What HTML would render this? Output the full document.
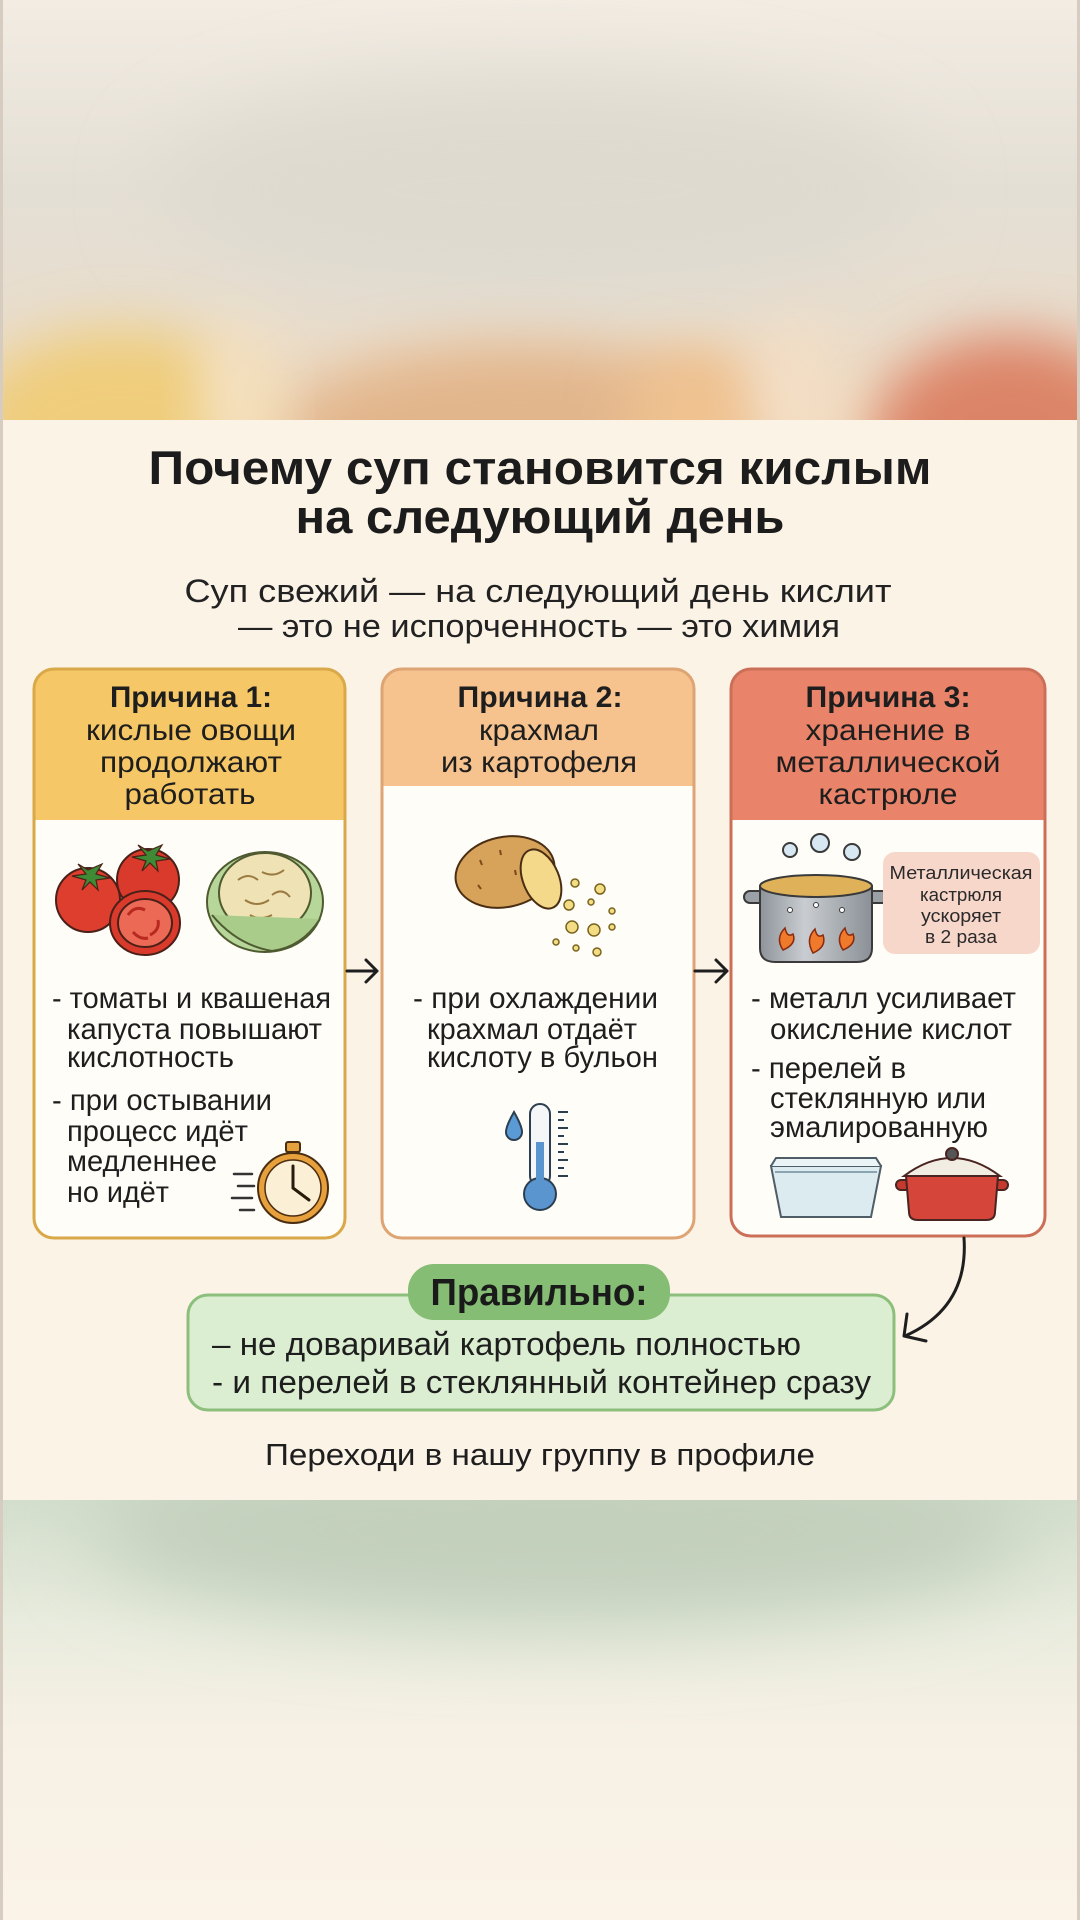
<!DOCTYPE html>
<html><head><meta charset="utf-8">
<style>html,body{margin:0;padding:0;width:1080px;height:1920px;overflow:hidden;background:#fcf3e7}svg{display:block}</style>
</head><body>
<svg width="1080" height="1920" viewBox="0 0 1080 1920" xmlns="http://www.w3.org/2000/svg" font-family="'Liberation Sans', sans-serif">
<defs>
  <filter id="b40" x="-60%" y="-60%" width="220%" height="220%"><feGaussianBlur stdDeviation="40"/></filter>
  <filter id="b28" x="-60%" y="-60%" width="220%" height="220%"><feGaussianBlur stdDeviation="28"/></filter>
  <clipPath id="topc"><rect x="0" y="0" width="1080" height="420"/></clipPath>
  <clipPath id="botc"><rect x="0" y="1500" width="1080" height="420"/></clipPath>
  <linearGradient id="topg" x1="0" y1="0" x2="0" y2="1">
    <stop offset="0" stop-color="#f2ece3"/>
    <stop offset="0.45" stop-color="#e4dfd5"/>
    <stop offset="0.75" stop-color="#e8ddcd"/>
    <stop offset="1" stop-color="#eed8bd"/>
  </linearGradient>
  <linearGradient id="botg" x1="0" y1="0" x2="0" y2="1">
    <stop offset="0" stop-color="#d3decd"/>
    <stop offset="0.3" stop-color="#e9ecde"/>
    <stop offset="0.55" stop-color="#f7f1e5"/>
    <stop offset="1" stop-color="#fbf3e8"/>
  </linearGradient>
  <clipPath id="c1"><rect x="34" y="669" width="311" height="569" rx="20"/></clipPath>
  <clipPath id="c2"><rect x="382" y="669" width="312" height="569" rx="20"/></clipPath>
  <clipPath id="c3"><rect x="731" y="669" width="314" height="567" rx="20"/></clipPath>
  <linearGradient id="potg" x1="0" y1="0" x2="1" y2="0">
    <stop offset="0" stop-color="#8e949a"/>
    <stop offset="0.4" stop-color="#c9cdd1"/>
    <stop offset="1" stop-color="#8a9096"/>
  </linearGradient>
</defs>

<!-- top blurred band -->
<g clip-path="url(#topc)">
  <rect x="0" y="0" width="1080" height="420" fill="url(#topg)"/>
  <ellipse cx="540" cy="190" rx="380" ry="110" fill="#dedad0" filter="url(#b40)"/>
  <ellipse cx="120" cy="425" rx="150" ry="95" fill="#efcd7c" filter="url(#b28)"/>
  <ellipse cx="520" cy="435" rx="240" ry="90" fill="#e2b68c" filter="url(#b28)"/>
  <ellipse cx="700" cy="425" rx="75" ry="75" fill="#f0c290" filter="url(#b28)"/>
  <ellipse cx="1010" cy="445" rx="140" ry="110" fill="#dc8468" filter="url(#b28)"/>
  <ellipse cx="238" cy="400" rx="35" ry="80" fill="#f5e3c8" filter="url(#b28)"/>
  <ellipse cx="795" cy="400" rx="40" ry="80" fill="#f4dfc6" filter="url(#b28)"/>
</g>

<!-- bottom blurred band -->
<g clip-path="url(#botc)">
  <rect x="0" y="1500" width="1080" height="420" fill="url(#botg)"/>
  <ellipse cx="560" cy="1530" rx="470" ry="95" fill="#c3d0bc" filter="url(#b40)"/>
</g>

<!-- side edges -->
<rect x="0" y="0" width="3" height="1920" fill="#d6cdc0"/>
<rect x="1077" y="0" width="3" height="1920" fill="#d6cdc0"/>

<!-- Title -->
<g fill="#1c1c1c" font-weight="bold" font-size="47" text-anchor="middle">
  <text x="540" y="484" textLength="783" lengthAdjust="spacingAndGlyphs">Почему суп становится кислым</text>
  <text x="540" y="533" textLength="489" lengthAdjust="spacingAndGlyphs">на следующий день</text>
</g>
<g fill="#222" font-size="32" text-anchor="middle">
  <text x="538" y="602" textLength="707" lengthAdjust="spacingAndGlyphs">Суп свежий — на следующий день кислит</text>
  <text x="539" y="637" textLength="602" lengthAdjust="spacingAndGlyphs">— это не испорченность — это химия</text>
</g>

<!-- Card 1 -->
<g clip-path="url(#c1)">
  <rect x="34" y="669" width="311" height="569" fill="#fffdf8"/>
  <rect x="34" y="669" width="311" height="151" fill="#f5c766"/>
</g>
<rect x="34" y="669" width="311" height="569" rx="20" fill="none" stroke="#d9a848" stroke-width="3"/>

<!-- Card 2 -->
<g clip-path="url(#c2)">
  <rect x="382" y="669" width="312" height="569" fill="#fffdf8"/>
  <rect x="382" y="669" width="312" height="117" fill="#f6c38f"/>
</g>
<rect x="382" y="669" width="312" height="569" rx="20" fill="none" stroke="#dea474" stroke-width="3"/>

<!-- Card 3 -->
<g clip-path="url(#c3)">
  <rect x="731" y="669" width="314" height="567" fill="#fffdf8"/>
  <rect x="731" y="669" width="314" height="151" fill="#e9846a"/>
</g>
<rect x="731" y="669" width="314" height="567" rx="20" fill="none" stroke="#cc6f58" stroke-width="3"/>

<!-- Header texts -->
<g fill="#1e1e1e" font-size="30" text-anchor="middle">
  <text x="191" y="707" font-weight="bold" textLength="162" lengthAdjust="spacingAndGlyphs">Причина 1:</text>
  <text x="191" y="740" textLength="210" lengthAdjust="spacingAndGlyphs">кислые овощи</text>
  <text x="191" y="772" textLength="182" lengthAdjust="spacingAndGlyphs">продолжают</text>
  <text x="190" y="804" textLength="131" lengthAdjust="spacingAndGlyphs">работать</text>

  <text x="540" y="707" font-weight="bold" textLength="165" lengthAdjust="spacingAndGlyphs">Причина 2:</text>
  <text x="539" y="740" textLength="120" lengthAdjust="spacingAndGlyphs">крахмал</text>
  <text x="539" y="772" textLength="196" lengthAdjust="spacingAndGlyphs">из картофеля</text>

  <text x="888" y="707" font-weight="bold" textLength="165" lengthAdjust="spacingAndGlyphs">Причина 3:</text>
  <text x="888" y="740" textLength="165" lengthAdjust="spacingAndGlyphs">хранение в</text>
  <text x="888" y="772" textLength="225" lengthAdjust="spacingAndGlyphs">металлической</text>
  <text x="888" y="804" textLength="139" lengthAdjust="spacingAndGlyphs">кастрюле</text>
</g>

<!-- Body texts -->
<g fill="#1e1e1e" font-size="30">
  <text x="52" y="1008" textLength="279" lengthAdjust="spacingAndGlyphs">- томаты и квашеная</text>
  <text x="67" y="1039" textLength="255" lengthAdjust="spacingAndGlyphs">капуста повышают</text>
  <text x="67" y="1067" textLength="167" lengthAdjust="spacingAndGlyphs">кислотность</text>
  <text x="52" y="1110" textLength="220" lengthAdjust="spacingAndGlyphs">- при остывании</text>
  <text x="67" y="1141" textLength="181" lengthAdjust="spacingAndGlyphs">процесс идёт</text>
  <text x="67" y="1171" textLength="150" lengthAdjust="spacingAndGlyphs">медленнее</text>
  <text x="67" y="1202" textLength="102" lengthAdjust="spacingAndGlyphs">но идёт</text>

  <text x="413" y="1008" textLength="245" lengthAdjust="spacingAndGlyphs">- при охлаждении</text>
  <text x="427" y="1039" textLength="210" lengthAdjust="spacingAndGlyphs">крахмал отдаёт</text>
  <text x="427" y="1067" textLength="231" lengthAdjust="spacingAndGlyphs">кислоту в бульон</text>

  <text x="751" y="1008" textLength="265" lengthAdjust="spacingAndGlyphs">- металл усиливает</text>
  <text x="770" y="1039" textLength="242" lengthAdjust="spacingAndGlyphs">окисление кислот</text>
  <text x="751" y="1078" textLength="155" lengthAdjust="spacingAndGlyphs">- перелей в</text>
  <text x="770" y="1108" textLength="216" lengthAdjust="spacingAndGlyphs">стеклянную или</text>
  <text x="770" y="1137" textLength="218" lengthAdjust="spacingAndGlyphs">эмалированную</text>
</g>

<!-- Tomatoes -->
<g stroke="#4a2018" stroke-width="2">
  <circle cx="148" cy="880" r="31" fill="#d93a2b"/>
  <circle cx="88" cy="900" r="32" fill="#dd3e2e"/>
  <ellipse cx="145" cy="923" rx="35" ry="32" fill="#d93a2b"/>
  <ellipse cx="145" cy="923" rx="27" ry="24" fill="#ec6a55"/>
  <path d="M128 915 Q135 905 145 910 M150 935 Q160 930 158 920 M133 932 Q140 940 148 938" fill="none" stroke="#b82a20" stroke-width="3"/>
  <path d="M88 870 l-10 -6 l8 10 l-14 2 l14 4 l-4 10 l8 -8 l8 8 l-2 -10 l14 -2 l-14 -4 l6 -10 z" fill="#3f8a35" stroke-width="1.2"/>
  <path d="M148 851 l-10 -6 l8 10 l-14 2 l14 4 l-4 10 l8 -8 l8 8 l-2 -10 l14 -2 l-14 -4 l6 -10 z" fill="#3f8a35" stroke-width="1.2"/>
</g>
<!-- Cabbage -->
<g stroke="#4f5a30" stroke-width="2">
  <ellipse cx="265" cy="902" rx="58" ry="50" fill="#b7d699"/>
  <ellipse cx="265" cy="893" rx="46" ry="40" fill="#efe2b4"/>
  <path d="M238 880 q10 -8 20 0 M262 872 q12 6 22 -2 M245 900 q12 8 24 0 M272 895 q10 -8 18 2 M250 915 q10 6 22 0" fill="none" stroke="#9a7a40" stroke-width="2"/>
  <path d="M212 915 q25 30 60 36 q30 -4 48 -32" fill="#a9cc8a"/>
</g>
<!-- Stopwatch -->
<g>
  <rect x="286" y="1142" width="14" height="10" rx="2" fill="#e3a03c" stroke="#4a2e12" stroke-width="2"/>
  <circle cx="293" cy="1188" r="35" fill="#e8a03c" stroke="#4a2e12" stroke-width="2"/>
  <circle cx="293" cy="1188" r="28" fill="#fbefd6" stroke="#4a2e12" stroke-width="1.5"/>
  <path d="M293 1188 V1166 M293 1188 L309 1200" stroke="#2a1a0a" stroke-width="3" stroke-linecap="round"/>
  <path d="M234 1174 h18 M238 1186 h16 M232 1198 h20 M240 1210 h14" stroke="#333" stroke-width="2.5" stroke-linecap="round"/>
</g>

<!-- Potato -->
<g stroke="#4a2e14" stroke-width="2">
  <ellipse cx="505" cy="872" rx="50" ry="35" transform="rotate(-12 505 872)" fill="#d7a35a"/>
  <ellipse cx="541" cy="879" rx="18" ry="31" transform="rotate(-22 541 879)" fill="#f4d98a"/>
  <path d="M480 860 l2 5 M500 850 l1 5 M478 885 l3 4 M515 870 l1 5" stroke="#7a4a1a"/>
</g>
<g fill="#f2dc84" stroke="#7a6420" stroke-width="1.5">
  <circle cx="575" cy="883" r="4"/><circle cx="600" cy="889" r="5"/>
  <circle cx="569" cy="905" r="5"/><circle cx="591" cy="902" r="3"/><circle cx="612" cy="911" r="3"/>
  <circle cx="572" cy="927" r="6"/><circle cx="594" cy="930" r="6"/><circle cx="612" cy="927" r="3"/>
  <circle cx="556" cy="942" r="3"/><circle cx="576" cy="948" r="3"/><circle cx="597" cy="952" r="4"/>
</g>
<!-- Thermometer -->
<g stroke="#2d3e50" stroke-width="2">
  <path d="M514 1112 Q506 1126 506 1132 A8 8 0 0 0 522 1132 Q522 1126 514 1112 Z" fill="#5b9bd5"/>
  <rect x="530" y="1104" width="20" height="82" rx="10" fill="#f4f6f8"/>
  <circle cx="540" cy="1194" r="16" fill="#5b95d0"/>
  <rect x="536" y="1142" width="8" height="50" fill="#5b95d0" stroke="none"/>
  <path d="M558 1112 h10 M558 1120 h6 M558 1128 h10 M558 1136 h6 M558 1144 h10 M558 1152 h6 M558 1160 h10 M558 1168 h6 M558 1176 h10" stroke-width="2"/>
</g>

<!-- Steel pot -->
<g stroke="#3a3a3a" stroke-width="2">
  <circle cx="790" cy="850" r="7" fill="#d7e8f2"/>
  <circle cx="820" cy="843" r="9" fill="#d7e8f2"/>
  <circle cx="852" cy="852" r="8" fill="#d7e8f2"/>
  <rect x="744" y="891" width="22" height="12" rx="6" fill="#9aa0a6"/>
  <rect x="866" y="891" width="22" height="12" rx="6" fill="#9aa0a6"/>
  <path d="M760 886 L760 948 Q760 962 775 962 L857 962 Q872 962 872 948 L872 886 Z" fill="url(#potg)"/>
  <ellipse cx="816" cy="886" rx="56" ry="11" fill="#dfb158"/>
  <path d="M783 950 q-8 -12 2 -22 q2 10 8 6 q4 10 -10 16 z M813 953 q-8 -14 2 -24 q2 10 8 6 q4 12 -10 18 z M843 950 q-8 -12 2 -22 q2 10 8 6 q4 10 -10 16 z" fill="#f07a2c" stroke="#8a2a10" stroke-width="1.5"/>
  <circle cx="790" cy="910" r="2.5" fill="#fff" stroke-width="1"/><circle cx="816" cy="905" r="2.5" fill="#fff" stroke-width="1"/><circle cx="842" cy="910" r="2.5" fill="#fff" stroke-width="1"/>
</g>
<!-- pink note -->
<rect x="883" y="852" width="157" height="102" rx="12" fill="#f8d7cb"/>
<g fill="#2a2a2a" font-size="18" text-anchor="middle">
  <text x="961" y="879" textLength="143" lengthAdjust="spacingAndGlyphs">Металлическая</text>
  <text x="961" y="901" textLength="82" lengthAdjust="spacingAndGlyphs">кастрюля</text>
  <text x="961" y="922" textLength="80" lengthAdjust="spacingAndGlyphs">ускоряет</text>
  <text x="961" y="943" textLength="72" lengthAdjust="spacingAndGlyphs">в 2 раза</text>
</g>
<!-- glass container -->
<g stroke="#4f5d66" stroke-width="2">
  <path d="M771 1166 L881 1166 L871 1217 L781 1217 Z" fill="#dcebf0"/>
  <path d="M775 1172 L877 1172" stroke="#8aa4b0"/>
  <path d="M771 1166 L776 1158 L876 1158 L881 1166" fill="#eaf3f6"/>
</g>
<!-- red pot -->
<g stroke="#4a2420" stroke-width="2">
  <rect x="896" y="1180" width="16" height="10" rx="5" fill="#c43a2e"/>
  <rect x="992" y="1180" width="16" height="10" rx="5" fill="#c43a2e"/>
  <path d="M906 1176 L998 1176 L995 1212 Q995 1220 986 1220 L918 1220 Q909 1220 909 1212 Z" fill="#d6453a"/>
  <path d="M904 1176 Q952 1140 1000 1176 Z" fill="#f2ede2"/>
  <circle cx="952" cy="1154" r="6" fill="#555"/>
</g>

<!-- arrows between cards -->
<g stroke="#1e1e1e" stroke-width="3" fill="none" stroke-linecap="round" stroke-linejoin="round">
  <path d="M347 971 H377 M366 960 L377 971 L366 982"/>
  <path d="M695 971 H727 M716 960 L727 971 L716 982"/>
  <path d="M964 1238 C967 1282, 950 1316, 905 1336"/>
  <path d="M907 1314 L904 1336 L926 1341"/>
</g>

<!-- Correct box -->
<rect x="188" y="1295" width="706" height="115" rx="20" fill="#dbeed1" stroke="#8cbf7c" stroke-width="3"/>
<rect x="408" y="1264" width="262" height="56" rx="26" fill="#86bd74"/>
<text x="539" y="1305" font-size="38" font-weight="bold" fill="#1a1a1a" text-anchor="middle" textLength="217" lengthAdjust="spacingAndGlyphs">Правильно:</text>
<g fill="#1e1e1e" font-size="32">
  <text x="212" y="1355" textLength="589" lengthAdjust="spacingAndGlyphs">– не доваривай картофель полностью</text>
  <text x="212" y="1393" textLength="659" lengthAdjust="spacingAndGlyphs">- и перелей в стеклянный контейнер сразу</text>
</g>
<text x="540" y="1465" font-size="31" fill="#1e1e1e" text-anchor="middle" textLength="550" lengthAdjust="spacingAndGlyphs">Переходи в нашу группу в профиле</text>
</svg>
</body></html>
